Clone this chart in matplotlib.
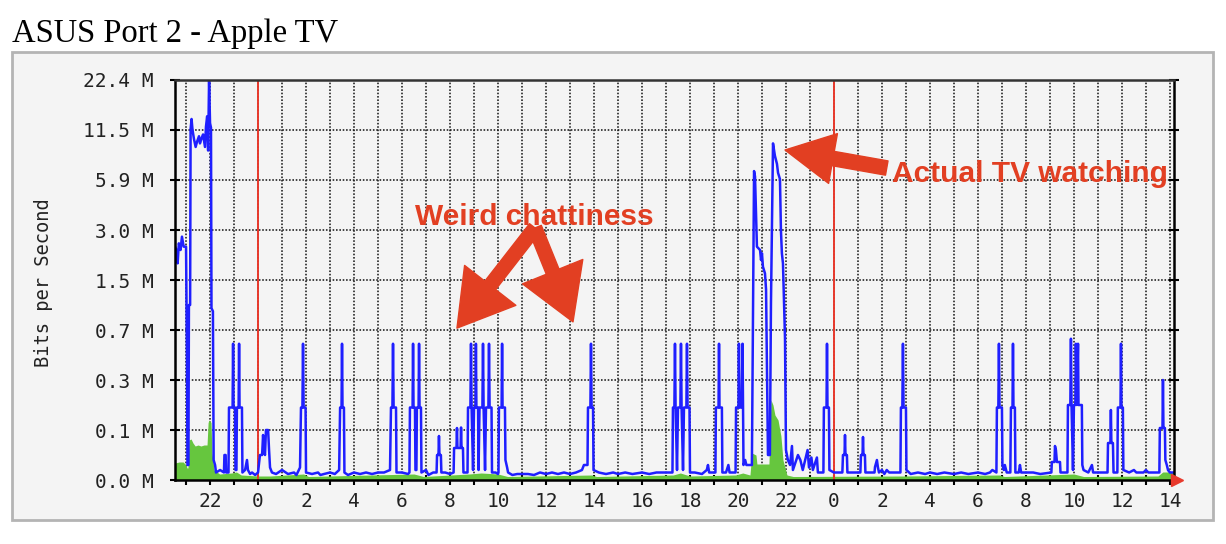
import numpy as np
import matplotlib.pyplot as plt
from matplotlib.patches import Rectangle
from matplotlib.ticker import NullLocator

plt.rcParams['font.family'] = 'DejaVu Sans Mono'

# MRTG style y axis: labels are drawn equally spaced
y_ticks = [0.0, 0.1, 0.3, 0.7, 1.5, 3.0, 5.9, 11.5, 22.4]
y_labels = ['0.0 M', '0.1 M', '0.3 M', '0.7 M', '1.5 M', '3.0 M', '5.9 M', '11.5 M', '22.4 M']
# hours counted from the first midnight
x_ticks = list(range(-2, 39, 2))
x_labels = [str(h % 24) for h in x_ticks]
midnights = [0, 24]
x_range = (-3.46, 38.17)

# outgoing traffic (blue line): (hour, Mbit/s)
blue_trace = [
    (-3.46, 2.5), (-3.4, 2.4), (-3.35, 2.0), (-3.3, 2.6), (-3.23, 2.4), (-3.17, 2.8), (-3.1, 2.5), (-3.0, 2.5),
    (-2.96, 0.45), (-2.94, 0.03), (-2.9, 0.03), (-2.88, 1.1), (-2.83, 1.1), (-2.81, 11.7), (-2.77, 13.9),
    (-2.73, 11.5), (-2.67, 10.5), (-2.6, 9.6), (-2.54, 10.2), (-2.46, 10.8), (-2.42, 10.0), (-2.35, 10.6),
    (-2.29, 11.0), (-2.21, 9.6), (-2.17, 12.2), (-2.12, 14.5), (-2.08, 9.2), (-2.04, 22.4), (-2.0, 13.0),
    (-1.96, 12.0), (-1.94, 1.05), (-1.88, 1.0), (-1.85, 0.04), (-1.79, 0.03), (-1.75, 0.015), (-1.58, 0.02),
    (-1.42, 0.015), (-1.4, 0.05), (-1.35, 0.05), (-1.33, 0.015), (-1.23, 0.015),
    (-1.21, 0.19), (-1.06, 0.19), (-1.04, 0.59), (-1.02, 0.19), (-0.96, 0.19), (-0.94, 0.02), (-0.9, 0.02),
    (-0.88, 0.19), (-0.81, 0.19), (-0.79, 0.59), (-0.77, 0.19), (-0.67, 0.19), (-0.65, 0.015),
    (-0.54, 0.02), (-0.46, 0.04), (-0.42, 0.02), (-0.33, 0.012), (-0.25, 0.015), (-0.12, 0.01), (0.0, 0.015),
    (0.08, 0.05), (0.17, 0.05), (0.21, 0.09), (0.25, 0.06), (0.29, 0.05), (0.33, 0.1), (0.42, 0.1),
    (0.46, 0.06), (0.5, 0.025), (0.58, 0.015), (0.75, 0.012), (1.0, 0.02), (1.25, 0.012), (1.5, 0.015),
    (1.6, 0.01), (1.75, 0.025),
    (1.79, 0.19), (1.85, 0.19), (1.875, 0.59), (1.9, 0.19), (1.98, 0.19), (2.0, 0.015),
    (2.25, 0.012), (2.5, 0.015), (2.6, 0.01), (2.75, 0.012), (3.0, 0.015), (3.2, 0.012), (3.38, 0.02),
    (3.42, 0.19), (3.48, 0.19), (3.5, 0.59), (3.52, 0.19), (3.58, 0.19), (3.6, 0.015),
    (3.75, 0.01), (4.0, 0.015), (4.25, 0.012), (4.5, 0.015), (4.75, 0.012), (5.0, 0.015), (5.25, 0.015), (5.5, 0.02),
    (5.54, 0.19), (5.6, 0.19), (5.625, 0.59), (5.65, 0.19), (5.75, 0.19), (5.77, 0.015),
    (6.0, 0.015), (6.25, 0.012), (6.31, 0.015),
    (6.33, 0.19), (6.44, 0.19), (6.46, 0.59), (6.48, 0.19), (6.54, 0.19), (6.56, 0.02), (6.6, 0.02),
    (6.62, 0.19), (6.69, 0.19), (6.71, 0.59), (6.73, 0.19), (6.79, 0.19), (6.81, 0.015),
    (7.0, 0.02), (7.1, 0.01), (7.3, 0.015), (7.44, 0.015),
    (7.46, 0.05), (7.52, 0.05), (7.54, 0.088), (7.56, 0.05), (7.62, 0.05), (7.64, 0.015),
    (7.8, 0.015), (8.0, 0.012), (8.15, 0.015),
    (8.17, 0.064), (8.27, 0.064), (8.29, 0.108), (8.31, 0.064), (8.44, 0.064), (8.46, 0.11), (8.48, 0.064),
    (8.54, 0.064), (8.56, 0.015), (8.73, 0.015),
    (8.75, 0.19), (8.85, 0.19), (8.875, 0.59), (8.9, 0.19), (8.96, 0.02), (9.0, 0.19), (9.06, 0.19),
    (9.08, 0.59), (9.1, 0.19), (9.17, 0.19), (9.19, 0.02), (9.23, 0.19), (9.35, 0.19), (9.375, 0.59),
    (9.4, 0.19), (9.46, 0.02), (9.5, 0.19), (9.6, 0.19), (9.625, 0.59), (9.65, 0.19), (9.73, 0.19), (9.75, 0.015),
    (9.9, 0.015), (10.0, 0.012), (10.02, 0.015),
    (10.04, 0.19), (10.15, 0.19), (10.17, 0.59), (10.19, 0.19), (10.29, 0.19), (10.31, 0.04), (10.38, 0.025),
    (10.42, 0.015), (10.6, 0.01), (10.8, 0.012), (11.0, 0.012), (11.25, 0.012), (11.5, 0.01), (11.75, 0.015),
    (12.0, 0.012), (12.25, 0.015), (12.5, 0.012), (12.75, 0.015), (13.0, 0.012), (13.25, 0.015), (13.5, 0.02),
    (13.58, 0.03), (13.73, 0.03),
    (13.75, 0.19), (13.85, 0.19), (13.875, 0.59), (13.9, 0.19), (13.96, 0.19), (13.98, 0.02),
    (14.2, 0.015), (14.5, 0.012), (14.8, 0.015), (15.0, 0.012), (15.3, 0.015), (15.6, 0.012), (16.0, 0.015),
    (16.3, 0.012), (16.6, 0.015), (17.0, 0.015), (17.27, 0.015),
    (17.29, 0.19), (17.35, 0.19), (17.375, 0.59), (17.4, 0.19), (17.46, 0.02), (17.5, 0.19), (17.6, 0.19),
    (17.625, 0.59), (17.65, 0.19), (17.71, 0.02), (17.75, 0.19), (17.85, 0.19), (17.875, 0.59), (17.9, 0.19),
    (17.98, 0.19), (18.0, 0.015),
    (18.2, 0.015), (18.5, 0.012), (18.7, 0.02), (18.75, 0.03), (18.8, 0.015), (19.06, 0.015),
    (19.08, 0.19), (19.19, 0.19), (19.21, 0.59), (19.23, 0.19), (19.33, 0.19), (19.35, 0.015),
    (19.5, 0.015), (19.6, 0.03), (19.65, 0.015), (19.9, 0.015),
    (19.92, 0.19), (20.02, 0.19), (20.04, 0.59), (20.06, 0.19), (20.15, 0.19), (20.19, 0.59), (20.21, 0.19),
    (20.23, 0.03), (20.3, 0.04), (20.35, 0.03), (20.58, 0.03),
    # actual TV watching
    (20.625, 0.96), (20.67, 6.9), (20.71, 6.3), (20.75, 4.1), (20.79, 2.5), (20.92, 2.4), (20.96, 2.1),
    (21.0, 2.3), (21.04, 1.9), (21.125, 1.7), (21.17, 1.35), (21.21, 0.33), (21.25, 0.05), (21.33, 0.05),
    (21.375, 1.13), (21.46, 10.0), (21.54, 8.6), (21.625, 7.7), (21.67, 6.7), (21.75, 6.0), (21.79, 3.0),
    (21.83, 2.3), (21.875, 2.0), (21.96, 0.63), (22.0, 0.06), (22.08, 0.04), (22.17, 0.03), (22.25, 0.068),
    (22.29, 0.02), (22.5, 0.05), (22.6, 0.04), (22.7, 0.02), (22.9, 0.06), (22.96, 0.025), (23.06, 0.045),
    (23.12, 0.02), (23.29, 0.045), (23.33, 0.015), (23.56, 0.015),
    (23.58, 0.19), (23.69, 0.19), (23.71, 0.59), (23.73, 0.19), (23.79, 0.19), (23.81, 0.02),
    (24.0, 0.015), (24.35, 0.015),
    (24.375, 0.05), (24.44, 0.05), (24.46, 0.09), (24.48, 0.05), (24.54, 0.05), (24.56, 0.015),
    (24.8, 0.015), (25.1, 0.015),
    (25.125, 0.05), (25.19, 0.05), (25.21, 0.086), (25.23, 0.05), (25.29, 0.05), (25.31, 0.015),
    (25.69, 0.015), (25.71, 0.026), (25.79, 0.04), (25.83, 0.026), (25.875, 0.015),
    (26.0, 0.02), (26.1, 0.012), (26.2, 0.02), (26.3, 0.015), (26.6, 0.015), (26.77, 0.015),
    (26.79, 0.19), (26.85, 0.19), (26.875, 0.59), (26.9, 0.19), (27.0, 0.19), (27.02, 0.02),
    (27.2, 0.012), (27.5, 0.015), (27.8, 0.012), (28.0, 0.015), (28.3, 0.012), (28.6, 0.015), (29.0, 0.012),
    (29.3, 0.015), (29.6, 0.012), (30.0, 0.015), (30.3, 0.012), (30.5, 0.015), (30.6, 0.02), (30.77, 0.015),
    (30.79, 0.19), (30.85, 0.19), (30.875, 0.59), (30.9, 0.19), (31.0, 0.19), (31.02, 0.03), (31.08, 0.02),
    (31.12, 0.03), (31.2, 0.015), (31.35, 0.015),
    (31.375, 0.19), (31.44, 0.19), (31.46, 0.59), (31.48, 0.19), (31.54, 0.19), (31.56, 0.015),
    (31.7, 0.015), (31.75, 0.03), (31.8, 0.015), (32.0, 0.015), (32.3, 0.015), (32.6, 0.012), (33.06, 0.015),
    (33.08, 0.036), (33.19, 0.036), (33.21, 0.068), (33.25, 0.06), (33.29, 0.036), (33.42, 0.036), (33.44, 0.015),
    (33.6, 0.015), (33.73, 0.015),
    (33.75, 0.2), (33.85, 0.2), (33.875, 0.63), (33.9, 0.2), (33.96, 0.02), (34.0, 0.2), (34.06, 0.2),
    (34.08, 0.59), (34.12, 0.2), (34.17, 0.59), (34.19, 0.2), (34.33, 0.2), (34.35, 0.03), (34.4, 0.02),
    (34.6, 0.015), (34.75, 0.03), (34.8, 0.015), (35.4, 0.015),
    (35.42, 0.074), (35.52, 0.074), (35.54, 0.18), (35.56, 0.074), (35.625, 0.074), (35.65, 0.015),
    (35.81, 0.015),
    (35.83, 0.19), (35.94, 0.19), (35.96, 0.59), (35.98, 0.19), (36.04, 0.19), (36.06, 0.02),
    (36.3, 0.015), (36.5, 0.02), (36.6, 0.015), (36.9, 0.015), (37.0, 0.02), (37.1, 0.015), (37.56, 0.015),
    (37.58, 0.108), (37.69, 0.108), (37.71, 0.3), (37.73, 0.108), (37.79, 0.108), (37.81, 0.04),
    (37.87, 0.03), (37.92, 0.02), (38.0, 0.015), (38.17, 0.015),
]

# incoming traffic (green area): (hour, Mbit/s)
green_trace = [
    (-3.46, 0.034), (-3.29, 0.036), (-3.12, 0.036), (-3.0, 0.03), (-2.96, 0.024), (-2.92, 0.024),
    (-2.875, 0.08), (-2.79, 0.082), (-2.71, 0.074), (-2.62, 0.068), (-2.5, 0.07), (-2.38, 0.068),
    (-2.25, 0.07), (-2.125, 0.07), (-2.08, 0.13), (-2.04, 0.14), (-1.96, 0.13), (-1.92, 0.054),
    (-1.83, 0.02), (-1.6, 0.012), (-1.1, 0.014), (-0.9, 0.016), (-0.7, 0.01), (0.0, 0.008), (0.5, 0.008),
    (1.9, 0.012), (2.1, 0.007), (6.5, 0.012), (6.9, 0.007), (8.8, 0.012), (9.3, 0.014), (10.0, 0.012),
    (10.4, 0.007), (13.9, 0.01), (14.1, 0.007), (17.3, 0.01), (17.6, 0.014), (18.0, 0.008), (19.9, 0.01),
    (20.2, 0.014), (20.5, 0.01), (20.58, 0.054), (20.75, 0.05), (20.79, 0.032), (21.29, 0.032),
    (21.375, 0.22), (21.46, 0.2), (21.54, 0.16), (21.67, 0.14), (21.79, 0.088), (21.875, 0.04),
    (22.04, 0.01), (22.3, 0.007), (26.9, 0.008), (30.9, 0.01), (31.1, 0.007), (34.0, 0.012), (34.4, 0.007),
    (37.5, 0.008), (37.7, 0.016), (38.17, 0.016),
]

red = '#e23f22'
idx = np.arange(len(y_ticks))


def fwd(v):
    return np.interp(v, y_ticks, idx)


def inv(i):
    return np.interp(i, idx, y_ticks)


fig = plt.figure(figsize=(12.26, 5.44), dpi=100)
fig.add_artist(Rectangle((12 / 1226, 24 / 544), 1201 / 1226, 468 / 544, transform=fig.transFigure,
                         facecolor='#f4f4f4', edgecolor='#b4b4b4', lw=2, zorder=0))
fig.text(12 / 1226, 1 - 42 / 544, 'ASUS Port 2 - Apple TV', family='Liberation Serif',
         fontsize=23.5, va='baseline')
fig.text(44 / 1226, 1 - 283 / 544, 'Bits per Second', rotation=90, ha='center', va='center',
         fontsize=13.5, color='#222222')

ax = fig.add_axes([175 / 1226, 64 / 544, 999 / 1226, 400 / 544])
ax.set_facecolor('#f4f4f4')
ax.set_yscale('function', functions=(fwd, inv))
ax.set_ylim(0, 22.4)
ax.set_xlim(*x_range)

gh, gv = zip(*green_trace)
ax.fill_between(gh, 0, gv, color='#66c63e', lw=0, zorder=2)
bh, bv = zip(*blue_trace)
ax.plot(bh, bv, color='#1f1fff', lw=1.8, zorder=4)
for m in midnights:
    ax.axvline(m, color='#e8392c', lw=1.4, zorder=3)

ax.set_yticks(y_ticks)
ax.set_yticklabels(y_labels)
ax.yaxis.set_minor_locator(NullLocator())
ax.set_xticks(x_ticks)
ax.set_xticklabels(x_labels)
ax.set_xticks(range(-3, 39), minor=True)
ax.tick_params(axis='both', which='both', direction='inout', length=7, width=1.5, color='black',
               labelsize=14, labelcolor='#222222')
ax.tick_params(axis='y', right=True, pad=12)
ax.tick_params(axis='x', pad=5)
dots = dict(color='#1a1a1a', lw=1.15, linestyle=(0, (1, 1.1)), zorder=1)
ax.grid(True, which='both', axis='x', **dots)
ax.grid(True, which='major', axis='y', **dots)
ax.set_axisbelow(True)
for s in ax.spines.values():
    s.set_linewidth(1.8)
    s.set_color('black')
    s.set_zorder(5)
ax.spines['top'].set_color('#333333')

ax.plot([x_range[1] + 0.12], [0], marker='>', color='#e8392c', markersize=9, clip_on=False, zorder=6)

ax.text(11.5, 3.29, 'Weird chattiness', ha='center', va='baseline', fontsize=21.5,
        fontweight='bold', color=red, family='Liberation Sans', zorder=7)
ax.text(32.17, 5.78, 'Actual TV watching', ha='center', va='baseline', fontsize=21.5,
        fontweight='bold', color=red, family='Liberation Sans', zorder=7)
head = dict(color=red, shrinkA=0, shrinkB=0, mutation_scale=26)
ax.annotate('', xy=(8.29, 0.73), xytext=(11.54, 3.12),
            arrowprops=dict(arrowstyle='simple,head_length=1.5,head_width=1.8,tail_width=0.38', **head))
ax.annotate('', xy=(13.125, 0.83), xytext=(11.54, 3.12),
            arrowprops=dict(arrowstyle='simple,head_length=1.5,head_width=1.8,tail_width=0.38', **head))
ax.annotate('', xy=(21.96, 9.26), xytext=(26.2, 7.24),
            arrowprops=dict(arrowstyle='simple,head_length=1.35,head_width=1.4,tail_width=0.4', **head))

fig.savefig('out.png', dpi=100)
